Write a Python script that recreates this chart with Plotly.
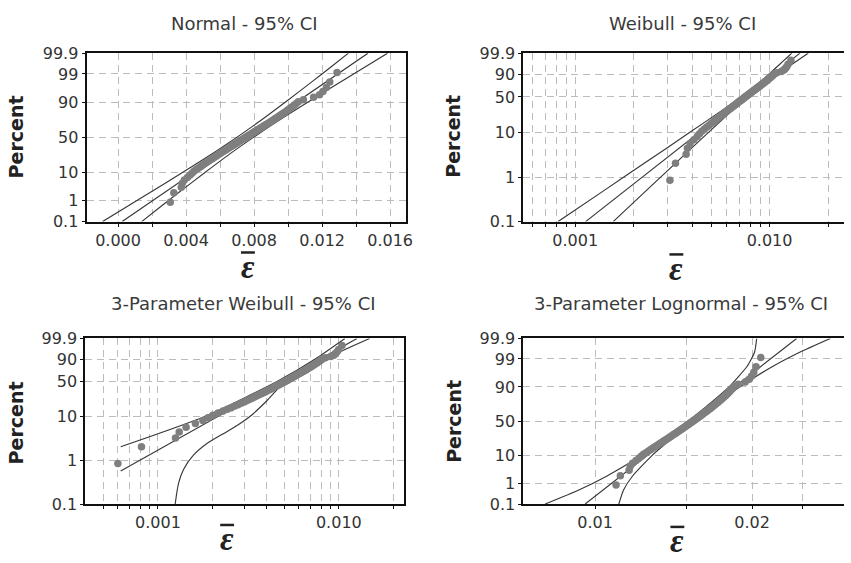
import math
from statistics import NormalDist
import plotly.graph_objects as go

# ---------------- data ----------------
PCT = [0.87, 2.11, 3.36, 4.60, 5.85, 7.09, 8.33, 9.58, 10.82, 12.06, 13.31, 14.55, 15.80, 17.04,
       18.28, 19.53, 20.77, 22.01, 23.26, 24.50, 25.75, 26.99, 28.23, 29.48, 30.72, 31.97, 33.21,
       34.45, 35.70, 36.94, 38.18, 39.43, 40.67, 41.92, 43.16, 44.40, 45.65, 46.89, 48.13, 49.38,
       50.62, 51.87, 53.11, 54.35, 55.60, 56.84, 58.08, 59.33, 60.57, 61.82, 63.06, 64.30, 65.55,
       66.79, 68.03, 69.28, 70.52, 71.77, 73.01, 74.25, 75.50, 76.74, 77.99, 79.23, 80.47, 81.72,
       82.96, 84.20, 85.45, 86.69, 87.94, 89.18, 90.42, 91.67, 92.91, 94.15, 95.40, 96.64, 97.89,
       99.13]
EPS = [0.00307, 0.00328, 0.00372, 0.00378, 0.00390, 0.00408, 0.00424, 0.00436, 0.00448, 0.00462,
       0.00476, 0.00489, 0.00501, 0.00513, 0.00524, 0.00535, 0.00546, 0.00556, 0.00566, 0.00576,
       0.00586, 0.00595, 0.00604, 0.00613, 0.00622, 0.00631, 0.00640, 0.00648, 0.00657, 0.00665,
       0.00674, 0.00682, 0.00690, 0.00698, 0.00706, 0.00714, 0.00722, 0.00730, 0.00738, 0.00746,
       0.00754, 0.00762, 0.00770, 0.00778, 0.00786, 0.00794, 0.00802, 0.00810, 0.00818, 0.00826,
       0.00835, 0.00844, 0.00853, 0.00861, 0.00870, 0.00879, 0.00888, 0.00897, 0.00906, 0.00915,
       0.00925, 0.00935, 0.00945, 0.00955, 0.00965, 0.00976, 0.00987, 0.00998, 0.01010, 0.01022,
       0.01034, 0.01046, 0.01060, 0.01090, 0.01150, 0.01185, 0.01205, 0.01225, 0.01245, 0.01288]

W3_THRESHOLD = 0.00247
LN3_THRESHOLD = -0.0079

CURVE_PCT = [0.1, 0.5, 2, 10, 30, 50, 70, 90, 98, 99.5, 99.9]
NORMAL_FIT = [0.00024, 0.00144, 0.00266, 0.00447, 0.00624, 0.00747, 0.00870, 0.01047, 0.01228, 0.01350, 0.01470]
NORMAL_LO = [-0.00091, 0.00044, 0.00181, 0.00381, 0.00572, 0.00698, 0.00818, 0.00981, 0.01143, 0.01250, 0.01355]
NORMAL_HI = [0.00139, 0.00244, 0.00351, 0.00513, 0.00676, 0.00796, 0.00922, 0.01113, 0.01313, 0.01450, 0.01585]

WEIBULL_FIT = [0.001131, 0.001797, 0.002682, 0.004311, 0.006120, 0.007407, 0.008681, 0.010459, 0.012180, 0.013287, 0.014342]
WEIBULL_LO = [0.000816, 0.001398, 0.002225, 0.003857, 0.005765, 0.007124, 0.008373, 0.009924, 0.011323, 0.012195, 0.013012]
WEIBULL_HI = [0.001568, 0.002311, 0.003233, 0.004819, 0.006497, 0.007702, 0.009000, 0.011023, 0.013102, 0.014477, 0.015808]

LN3_FIT = [0.009572, 0.010344, 0.011192, 0.012577, 0.014104, 0.015267, 0.016525, 0.018526, 0.020822, 0.022530, 0.024343]
LN3_LO = [0.008022, 0.009286, 0.010522, 0.012262, 0.013898, 0.015054, 0.016281, 0.018059, 0.019571, 0.020217, 0.020411]
LN3_HI = [0.011105, 0.011332, 0.011790, 0.012853, 0.014281, 0.015451, 0.016728, 0.018931, 0.021933, 0.024676, 0.028240]

W3_FIT_PCT = [0.58, 99.9]
W3_FIT_X = [0.000622, 0.0126]
W3_UP_PCT = [2.1, 10, 50, 90, 99.9]
W3_UP_X = [0.000622, 0.00180, 0.00455, 0.0074, 0.0108]
W3_LOW_PCT = [0.1, 0.3, 0.63, 1.35, 2.47, 4.1, 6.5, 11, 22, 45, 90, 99.9]
W3_LOW_X = [0.001245, 0.001299, 0.001384, 0.00157, 0.001857, 0.00228, 0.00275, 0.00330, 0.00400, 0.00490, 0.0084, 0.0148]

NORMAL_YTICKS = [0.1, 1, 10, 50, 90, 99, 99.9]
WEIBULL_YTICKS = [0.1, 1, 10, 50, 90, 99.9]

TITLES = ["Normal - 95% CI", "Weibull - 95% CI", "3-Parameter Weibull - 95% CI",
          "3-Parameter Lognormal - 95% CI"]

# ---------------- scales ----------------
_nd = NormalDist()


def zq(p):
    return _nd.inv_cdf(p / 100.0)


def wq(p):
    return math.log(-math.log(1.0 - p / 100.0))


W, H = 851, 563
FONT = "DejaVu Sans"
LINE_C = "#383838"
PT_C = "#7f7f7f"
GRID_C = "#bcbcbc"
TXT_C = "#333333"


def px_x(v):
    return v / W


def px_y(v):
    return 1 - v / H


# panel pixel boxes: (left, right, top, bottom)
BOX = {
    1: (87.3, 409.3, 45.7, 220.0),
    2: (527.7, 851.0, 45.7, 220.0),
    3: (86.0, 407.3, 341.0, 512.3),
    4: (527.7, 851.0, 341.0, 512.3),
}

fig = go.Figure()


def add_curve(k, xs, ys, shape="spline", smooth=0.6):
    fig.add_trace(go.Scatter(x=xs, y=ys, mode="lines", xaxis=f"x{k}", yaxis=f"y{k}",
                             line=dict(color=LINE_C, width=1.15, shape=shape, smoothing=smooth),
                             hoverinfo="skip", showlegend=False))


def add_points(k, xs, ys):
    fig.add_trace(go.Scatter(x=xs, y=ys, mode="markers", xaxis=f"x{k}", yaxis=f"y{k}",
                             marker=dict(color=PT_C, size=7.5, line=dict(width=0)),
                             showlegend=False))


# Panel 1: Normal
add_curve(1, NORMAL_LO, [zq(p) for p in CURVE_PCT])
add_curve(1, NORMAL_FIT, [zq(p) for p in CURVE_PCT], "linear")
add_curve(1, NORMAL_HI, [zq(p) for p in CURVE_PCT])
add_points(1, EPS, [zq(p) for p in PCT])

# Panel 2: Weibull
add_curve(2, WEIBULL_LO, [wq(p) for p in CURVE_PCT])
add_curve(2, WEIBULL_FIT, [wq(p) for p in CURVE_PCT], "linear")
add_curve(2, WEIBULL_HI, [wq(p) for p in CURVE_PCT])
add_points(2, EPS, [wq(p) for p in PCT])

# Panel 3: 3-parameter Weibull (data - threshold)
add_curve(3, W3_UP_X, [wq(p) for p in W3_UP_PCT])
add_curve(3, W3_FIT_X, [wq(p) for p in W3_FIT_PCT], "linear")
add_curve(3, W3_LOW_X, [wq(p) for p in W3_LOW_PCT], smooth=0.8)
add_points(3, [e - W3_THRESHOLD for e in EPS], [wq(p) for p in PCT])

# Panel 4: 3-parameter lognormal (data - threshold)
add_curve(4, LN3_LO, [zq(p) for p in CURVE_PCT], smooth=0.5)
add_curve(4, LN3_FIT, [zq(p) for p in CURVE_PCT], "linear")
add_curve(4, LN3_HI, [zq(p) for p in CURVE_PCT], smooth=0.5)
add_points(4, [e - LN3_THRESHOLD for e in EPS], [zq(p) for p in PCT])


def fmt_p(p):
    return ("%g" % p)


def log_grid(lo_exp, hi_exp):
    vals = []
    for e in range(lo_exp, hi_exp + 1):
        for m in range(1, 10):
            vals.append(m * 10.0 ** e)
    return vals


axis_common = dict(showgrid=True, gridcolor=GRID_C, griddash="7px,5px", gridwidth=1,
                   zeroline=False, showline=True, linecolor="#111111", linewidth=2,
                   ticks="outside", ticklen=3, tickcolor="#111111",
                   tickfont=dict(family=FONT, size=16, color=TXT_C))

layout = dict(width=W, height=H, margin=dict(l=0, r=0, t=0, b=0),
              paper_bgcolor="white", plot_bgcolor="white", showlegend=False)

# x axes
norm_ticks = [i * 0.002 for i in range(0, 9)]
norm_text = [("%.3f" % v) if i % 2 == 0 else "" for i, v in enumerate(norm_ticks)]
wb_ticks = [v for v in log_grid(-4, -2) if 0.00055 <= v <= 0.024]
wb_text = ["0.001" if abs(v - 0.001) < 1e-9 else ("0.010" if abs(v - 0.01) < 1e-9 else "") for v in wb_ticks]
w3_ticks = [v for v in log_grid(-4, -2) if 0.00045 <= v <= 0.022]
w3_text = ["0.001" if abs(v - 0.001) < 1e-9 else ("0.010" if abs(v - 0.01) < 1e-9 else "") for v in w3_ticks]
ln_ticks = [0.01, 0.015, 0.02, 0.025]
ln_text = ["0.01", "", "0.02", ""]

xspec = {
    1: dict(type="linear", range=[-0.00185, 0.01693], tickvals=norm_ticks, ticktext=norm_text),
    2: dict(type="log", range=[-3.267, -1.617], tickvals=wb_ticks, ticktext=wb_text),
    3: dict(type="log", range=[-3.402, -1.640], tickvals=w3_ticks, ticktext=w3_text),
    4: dict(type="log", range=[-2.1375, -1.5228], tickvals=ln_ticks, ticktext=ln_text),
}
ytick_sets = {
    1: (NORMAL_YTICKS, zq), 2: (WEIBULL_YTICKS, wq), 3: (WEIBULL_YTICKS, wq), 4: (NORMAL_YTICKS, zq)
}

for k in range(1, 5):
    l, r, t, b = BOX[k]
    xa = dict(axis_common)
    xa.update(xspec[k])
    xa.update(domain=[px_x(l), min(1.0, px_x(r))], anchor=f"y{k}", mirror=True,
              tickmode="array")
    ticks, fn = ytick_sets[k]
    ya = dict(axis_common)
    ya.update(domain=[px_y(b), px_y(t)], anchor=f"x{k}", tickmode="array",
              tickvals=[fn(p) for p in ticks], ticktext=[fmt_p(p) for p in ticks],
              range=[fn(0.1), fn(99.9)], mirror=(k in (1, 3)))
    layout["xaxis" if k == 1 else f"xaxis{k}"] = xa
    layout["yaxis" if k == 1 else f"yaxis{k}"] = ya

annotations = []
shapes = []
TITLE_POS = [(246.7, 15), (688, 15), (245.5, 305), (687, 305)]
for (cx, cy), txt in zip(TITLE_POS, TITLES):
    annotations.append(dict(text=txt, x=px_x(cx), y=px_y(cy), xref="paper", yref="paper",
                            showarrow=False, xanchor="center", yanchor="middle",
                            font=dict(family=FONT, size=18, color="#3a3a3a")))
PCT_POS = [(16, 132), (456, 132), (16, 428), (457, 427)]
for cx, cy in PCT_POS:
    annotations.append(dict(text="<b>Percent</b>", x=px_x(cx), y=px_y(cy), xref="paper",
                            yref="paper", showarrow=False, textangle=-90,
                            xanchor="center", yanchor="middle",
                            font=dict(family=FONT, size=19, color="#222222")))
EPS_POS = [(250, 267), (682, 269), (229, 549), (683, 551)]
for cx, cy in EPS_POS:
    annotations.append(dict(text="<b><i>ε</i></b>", x=px_x(cx), y=px_y(cy), xref="paper",
                            yref="paper", showarrow=False, xanchor="center", yanchor="middle",
                            font=dict(family="Liberation Serif", size=33, color="#222222")))
    shapes.append(dict(type="line", xref="paper", yref="paper",
                       x0=px_x(cx - 7), x1=px_x(cx + 7), y0=px_y(cy - 15), y1=px_y(cy - 15),
                       line=dict(color="#222222", width=2.5)))

layout["annotations"] = annotations
layout["shapes"] = shapes
fig.update_layout(**layout)
fig.write_html("out.html")
